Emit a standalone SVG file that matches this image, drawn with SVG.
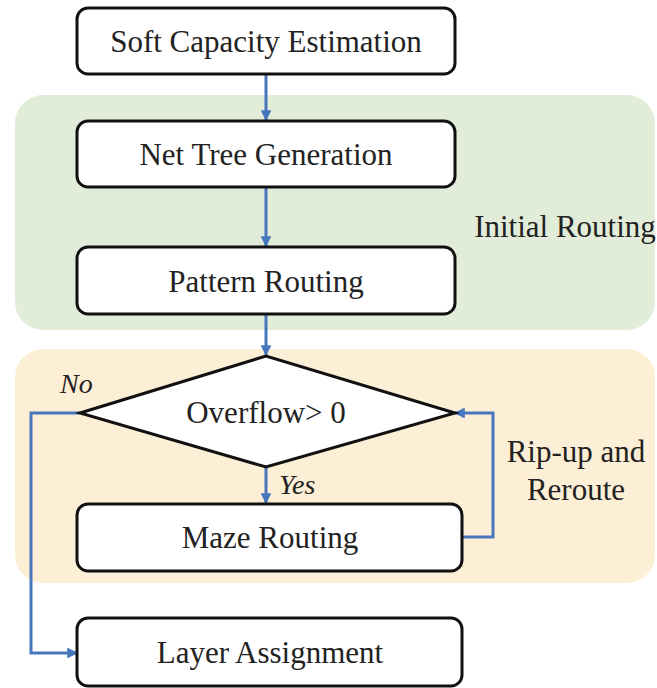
<svg xmlns="http://www.w3.org/2000/svg" width="657" height="688" viewBox="0 0 657 688">
<style>
.bg-g{fill:#e2edd9;}
.bg-o{fill:#fdefd6;}
.box{fill:#fff;stroke:#111;stroke-width:3;}
.t{font-family:"Liberation Serif","Times New Roman","Noto Serif","DejaVu Serif",serif;font-size:31px;fill:#222;text-anchor:middle;}
.ti{font-family:"Liberation Serif","Times New Roman","Noto Serif","DejaVu Serif",serif;font-size:28px;font-style:italic;fill:#222;}
.c{fill:none;stroke:#4677bd;stroke-width:3;}
</style>
<defs>
<marker id="ah" viewBox="0 0 10 10" refX="9" refY="5" markerWidth="3.6" markerHeight="3.6" orient="auto" markerUnits="strokeWidth">
<path d="M0,0 L10,5 L0,10 z" fill="#4677bd"/>
</marker>
</defs>
<rect class="bg-g" x="15" y="95" width="640" height="235" rx="28"/>
<rect class="bg-o" x="15" y="349" width="640" height="234" rx="28"/>
<text class="t" x="565" y="237">Initial Routing</text>
<text class="t" x="576" y="462">Rip-up and</text>
<text class="t" x="576" y="500">Reroute</text>
<g id="connectors">
<line class="c" x1="266" y1="74" x2="266" y2="120" marker-end="url(#ah)"/>
<line class="c" x1="266" y1="187" x2="266" y2="246" marker-end="url(#ah)"/>
<line class="c" x1="266" y1="314" x2="266" y2="355" marker-end="url(#ah)"/>
<line class="c" x1="266" y1="467" x2="266" y2="503" marker-end="url(#ah)"/>
<polyline class="c" points="80,413 31,413 31,653 77,653" marker-end="url(#ah)"/>
<polyline class="c" points="462,537 493,537 493,413 455,413" marker-end="url(#ah)"/>
<text class="ti" x="60" y="393">No</text>
<text class="ti" x="279" y="494">Yes</text>
</g>
<g id="soft"><rect class="box" x="77" y="8" width="378" height="66" rx="11"/><text class="t" x="266" y="52">Soft Capacity Estimation</text></g>
<g id="net"><rect class="box" x="77" y="121" width="378" height="66" rx="11"/><text class="t" x="266" y="165">Net Tree Generation</text></g>
<g id="pattern"><rect class="box" x="77" y="247" width="378" height="67" rx="11"/><text class="t" x="266" y="292">Pattern Routing</text></g>
<g id="overflow"><polygon class="box" points="80,413 266,356 455,413 266,467"/><text class="t" x="266" y="423">Overflow&gt; 0</text></g>
<g id="maze"><rect class="box" x="77" y="504" width="385" height="67" rx="11"/><text class="t" x="270" y="548">Maze Routing</text></g>
<g id="layer"><rect class="box" x="77" y="618" width="385" height="68" rx="11"/><text class="t" x="270" y="663">Layer Assignment</text></g>
</svg>
